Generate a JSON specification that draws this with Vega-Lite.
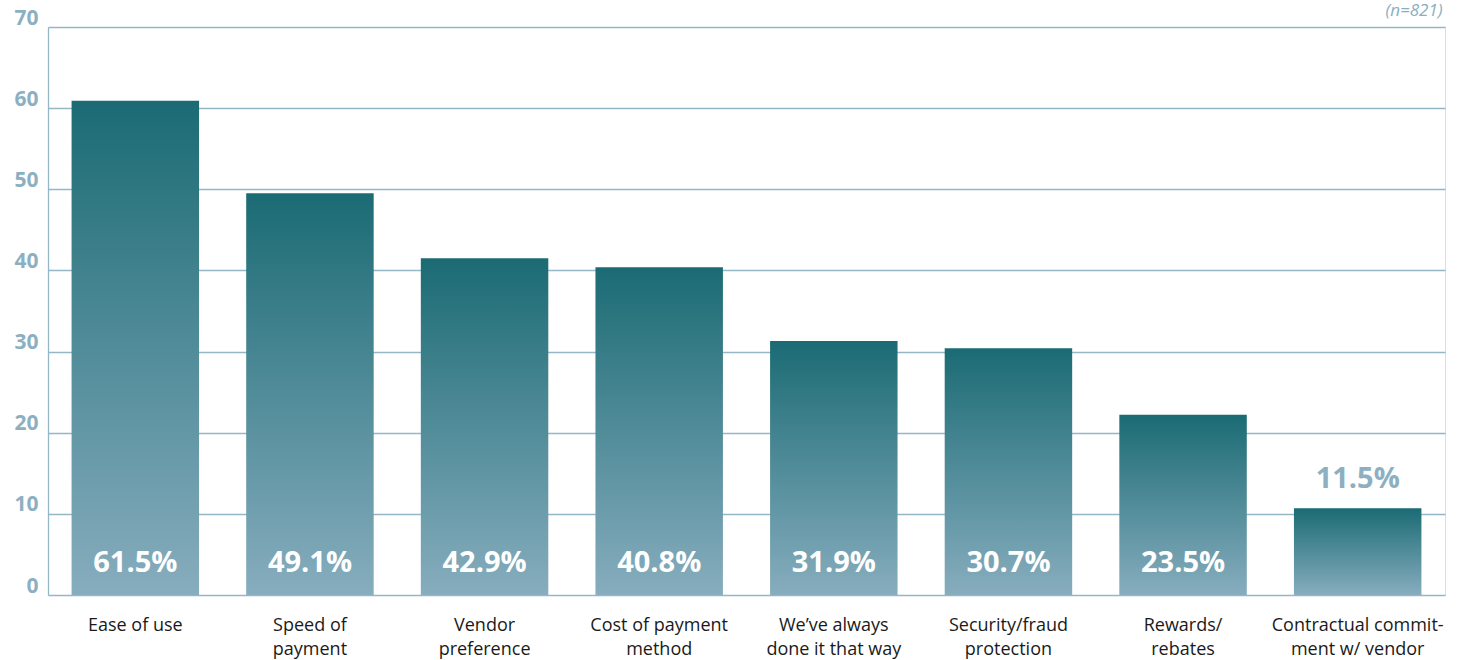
{
  "$schema": "https://vega.github.io/schema/vega-lite/v6.json",
  "width": 1397,
  "height": 568,
  "autosize": {"type": "none"},
  "padding": {"left": 48, "top": 27, "right": 22, "bottom": 65},
  "background": "white",
  "data": {
    "values": [
      {"reason": "Ease of use", "value": 60.9, "label": "61.5%"},
      {"reason": "Speed of|payment", "value": 49.5, "label": "49.1%"},
      {"reason": "Vendor|preference", "value": 41.5, "label": "42.9%"},
      {"reason": "Cost of payment|method", "value": 40.4, "label": "40.8%"},
      {"reason": "We’ve always|done it that way", "value": 31.3, "label": "31.9%"},
      {"reason": "Security/fraud|protection", "value": 30.4, "label": "30.7%"},
      {"reason": "Rewards/|rebates", "value": 22.2, "label": "23.5%"},
      {"reason": "Contractual commit-|ment w/ vendor", "value": 10.7, "label": "11.5%"}
    ]
  },
  "encoding": {
    "x": {
      "field": "reason",
      "type": "nominal",
      "sort": null,
      "scale": {"paddingInner": 0.27, "paddingOuter": 0.135},
      "axis": {
        "title": null,
        "labelAngle": 0,
        "labelExpr": "split(datum.label, '|')",
        "labelBaseline": "top",
        "labelPadding": 21,
        "labelFont": "Open Sans",
        "labelFontSize": 18,
        "labelLineHeight": 24,
        "labelColor": "#1a1a1a",
        "ticks": false,
        "domain": false,
        "grid": false
      }
    }
  },
  "layer": [
    {
      "mark": {
        "type": "bar",
        "fill": {
          "gradient": "linear",
          "x1": 0, "y1": 0, "x2": 0, "y2": 1,
          "stops": [
            {"offset": 0, "color": "#1b6b74"},
            {"offset": 1, "color": "#87adbe"}
          ]
        }
      },
      "encoding": {
        "y": {
          "field": "value",
          "type": "quantitative",
          "scale": {"domain": [0, 70], "nice": false},
          "axis": {
            "title": null,
            "values": [0, 10, 20, 30, 40, 50, 60, 70],
            "grid": true,
            "gridColor": "#94b7c6",
            "gridWidth": 1.3,
            "gridOpacity": 1,
            "domain": true,
            "domainColor": "#94b7c6",
            "domainWidth": 1.3,
            "ticks": false,
            "labelPadding": 10,
            "labelFont": "Open Sans",
            "labelFontSize": 21,
            "labelFontWeight": "bold",
            "labelColor": "#8cb0c1",
            "labelBaseline": "alphabetic",
            "labelOffset": -3
          }
        }
      }
    },
    {
      "transform": [{"filter": "datum.value > 15"}],
      "mark": {
        "type": "text",
        "font": "Open Sans",
        "fontSize": 29,
        "fontWeight": "bold",
        "color": "white",
        "baseline": "alphabetic",
        "dy": -23
      },
      "encoding": {
        "y": {"datum": 0, "type": "quantitative"},
        "text": {"field": "label"}
      }
    },
    {
      "transform": [{"filter": "datum.value <= 15"}],
      "mark": {
        "type": "text",
        "font": "Open Sans",
        "fontSize": 29,
        "fontWeight": "bold",
        "color": "#8cb0c1",
        "baseline": "alphabetic",
        "dy": -20
      },
      "encoding": {
        "y": {"field": "value", "type": "quantitative"},
        "text": {"field": "label"}
      }
    },
    {
      "data": {"values": [{"note": "(n=821)"}]},
      "mark": {
        "type": "text",
        "font": "Open Sans",
        "fontSize": 17,
        "fontStyle": "italic",
        "fontWeight": "normal",
        "color": "#8ab0c0",
        "align": "right",
        "baseline": "alphabetic",
        "dx": 85,
        "dy": -11
      },
      "encoding": {
        "x": {"datum": "Contractual commit-|ment w/ vendor"},
        "y": {"datum": 70, "type": "quantitative"},
        "text": {"field": "note"}
      }
    }
  ]
}
